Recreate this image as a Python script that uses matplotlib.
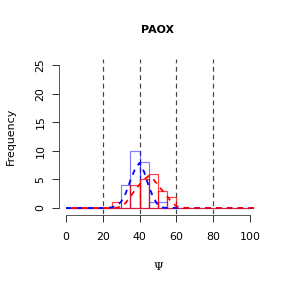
import numpy as np
import matplotlib
matplotlib.use("Agg")
import matplotlib.pyplot as plt

# histogram bins (width 5) and counts
bin_edges = np.arange(0, 105, 5)
blue_counts = [0, 0, 0, 0, 0, 0, 4, 10, 8, 1, 1, 0, 0, 0, 0, 0, 0, 0, 0, 0]
red_counts = [0, 0, 0, 0, 0, 1, 0, 4, 5, 6, 3, 2, 0, 0, 0, 0, 0, 0, 0, 0]

# dashed smooth curves
blue_x = [0, 20, 25, 27.5, 30, 32.5, 35, 37.5, 40, 42.5, 45, 47.5, 50, 52.5, 55, 60, 104]
blue_y = [0, 0, 0.1, 0.4, 1.1, 2.6, 4.8, 6.8, 7.9, 6.3, 3.8, 1.8, 0.5, 0.1, 0, 0, 0]
red_x = [0, 25, 27.5, 30, 32.5, 35, 37.5, 40, 42.5, 45, 47.5, 50, 52.5, 55, 57.5, 60, 62.5, 65, 104]
red_y = [0, 0, 0.05, 0.2, 0.9, 2.0, 3.1, 4.1, 5.0, 5.6, 5.0, 4.0, 3.0, 2.0, 1.0, 0.3, 0.1, 0, 0]

vlines = [20, 40, 60, 80]
xticks = [0, 20, 40, 60, 80, 100]
yticks = [0, 5, 10, 15, 20, 25]

fig = plt.figure(figsize=(4, 4), dpi=72)
ax = fig.add_axes([0.2035, 0.258, 0.690, 0.536])

for v in vlines:
    ax.axvline(v, color="#444444", lw=1.2, ls=(0, (4, 3)), zorder=1)

ax.bar(bin_edges[:-1], blue_counts, width=5, align="edge", fill=False,
       edgecolor=(0, 0, 1, 0.5), lw=1.2, zorder=2)
ax.bar(bin_edges[:-1], red_counts, width=5, align="edge", fill=False,
       edgecolor=(1, 0, 0, 0.75), lw=1.2, zorder=3)

ax.plot(blue_x, blue_y, color="#0000ff", lw=1.8, ls=(0, (3, 3)), zorder=4)
ax.plot(red_x, red_y, color="#ff0000", lw=1.8, ls=(3, (3, 3)), zorder=5)

ax.set_xlim(-4, 104)
ax.set_ylim(-1, 26)
for s in ["top", "right"]:
    ax.spines[s].set_visible(False)
ax.spines["bottom"].set_bounds(0, 100)
ax.spines["left"].set_bounds(0, 25)
ax.spines["bottom"].set_position(("outward", 1))
ax.spines["bottom"].set_color("#333333")
ax.spines["left"].set_color("#333333")

ax.set_xticks(xticks)
ax.set_yticks(yticks)
ax.tick_params(direction="out", length=7, width=1, color="#333333",
               labelsize=11)
ax.tick_params(axis="x", pad=10)
ax.tick_params(axis="y", labelrotation=90, pad=6)
for lab in ax.get_yticklabels():
    lab.set_va("center")

ax.set_title("PAOX", fontsize=11, fontweight="bold", pad=26)
ax.set_ylabel("Frequency", fontsize=11, labelpad=20)
ax.set_xlabel("\u03a8", fontsize=11, family="DejaVu Serif", labelpad=20)

fig.savefig("out.png", dpi=72)
